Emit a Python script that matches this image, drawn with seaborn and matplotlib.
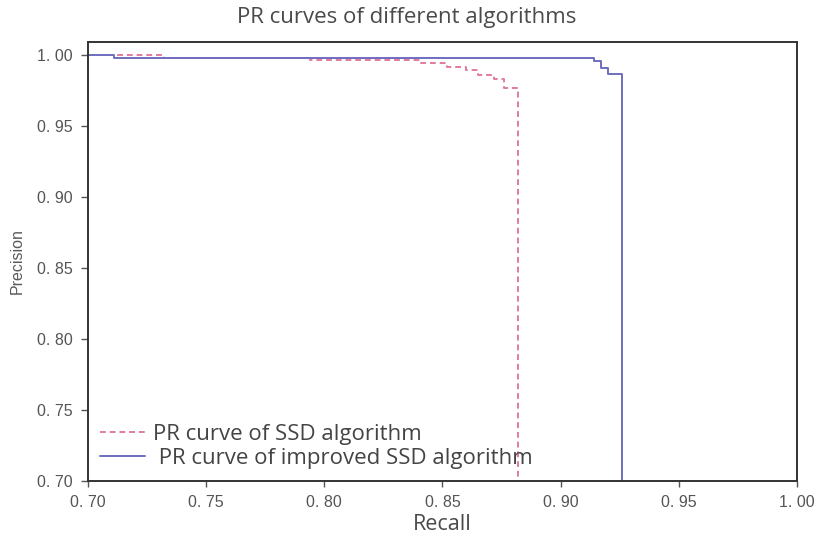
import matplotlib
matplotlib.use("Agg")
import matplotlib.pyplot as plt
import seaborn as sns
import pandas as pd

# SSD algorithm PR curve (step vertices)
ssd_recall = [0.700, 0.711, 0.732, 0.794, 0.841, 0.852, 0.860, 0.865, 0.872, 0.876, 0.882, 0.882]
ssd_precision = [1.000, 1.000, 0.998, 0.9965, 0.994, 0.9917, 0.989, 0.986, 0.983, 0.9764, 0.9764, 0.0]

# Improved SSD algorithm PR curve (step vertices)
imp_recall = [0.700, 0.711, 0.914, 0.917, 0.920, 0.926, 0.926]
imp_precision = [1.000, 0.998, 0.9953, 0.9906, 0.9866, 0.9866, 0.0]

labels = ["PR curve of SSD algorithm", " PR curve of improved SSD algorithm"]
xticks = [0.70, 0.75, 0.80, 0.85, 0.90, 0.95, 1.00]
yticks = [0.70, 0.75, 0.80, 0.85, 0.90, 0.95, 1.00]
xticklabels = ["0. 70", "0. 75", "0. 80", "0. 85", "0. 90", "0. 95", "1. 00"]
yticklabels = ["0. 70", "0. 75", "0. 80", "0. 85", "0. 90", "0. 95", "1. 00"]

sns.set_theme(style="ticks")
plt.rcParams["font.family"] = ["Open Sans", "DejaVu Sans"]

fig = plt.figure(figsize=(8.14, 5.39), dpi=100)
ax = fig.add_axes([0.108, 0.108, 0.871, 0.814])

df_ssd = pd.DataFrame({"Recall": ssd_recall, "Precision": ssd_precision})
df_imp = pd.DataFrame({"Recall": imp_recall, "Precision": imp_precision})

sns.lineplot(data=df_ssd, x="Recall", y="Precision", ax=ax, sort=False, estimator=None,
             drawstyle="steps-post", color="#e07d9c", linestyle=(0, (3, 2)), linewidth=1.4,
             label=labels[0])
sns.lineplot(data=df_imp, x="Recall", y="Precision", ax=ax, sort=False, estimator=None,
             drawstyle="steps-post", color="#6e6ebe", linestyle="-", linewidth=1.4,
             label=labels[1])

ax.set_xlim(0.70, 1.00)
ax.set_ylim(0.70, 1.009)
ax.set_xticks(xticks)
ax.set_yticks(yticks)
tick_font = ["Liberation Sans", "DejaVu Sans"]
ax.set_xticklabels(xticklabels, fontsize=11.5, color="#555555", family=tick_font)
ax.set_yticklabels(yticklabels, fontsize=11.5, color="#555555", family=tick_font)
ax.tick_params(axis="x", direction="out", length=4, width=1, color="#555555", pad=6)
ax.tick_params(axis="y", direction="out", length=5, width=1, color="#555555", pad=6)
for s in ax.spines.values():
    s.set_color("#333333")
    s.set_linewidth(1.4)

ax.set_xlabel("Recall", fontsize=15.5, color="#4a4a4a", labelpad=3)
ax.set_ylabel("Precision", fontsize=11.5, color="#5a5a5a", labelpad=9, family=tick_font)
fig.suptitle("PR curves of different algorithms", x=0.5, y=0.987, fontsize=16,
             color="#4a4a4a", va="top")

leg = ax.legend(loc="lower left", frameon=False, fontsize=16, handlelength=2.0,
                handletextpad=0.4, labelspacing=0.12, borderaxespad=0.15)
for t in leg.get_texts():
    t.set_color("#444444")

fig.savefig("out.png", dpi=100)
